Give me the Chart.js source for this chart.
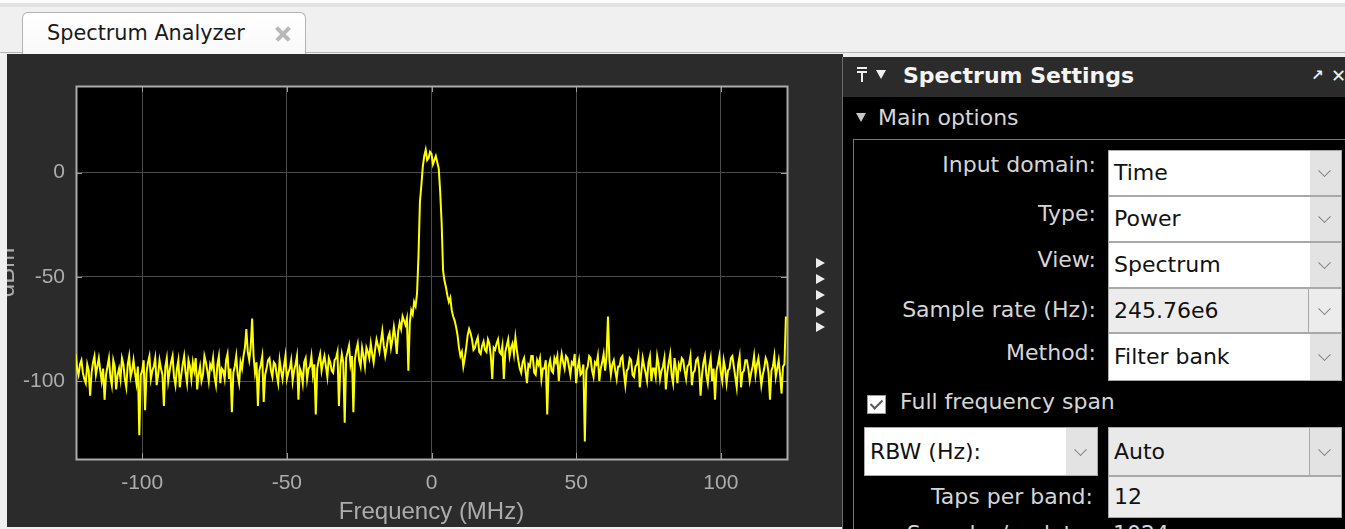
<!DOCTYPE html>
<html>
<head>
<meta charset="utf-8">
<title>Spectrum Analyzer</title>
<script src="https://cdn.jsdelivr.net/npm/chart.js@4.4.1/dist/chart.umd.min.js"></script>
<style>
  html, body { margin: 0; padding: 0; }
  body { width: 1345px; height: 529px; overflow: hidden; position: relative; background: #f0f0f0; font-family: "DejaVu Sans", sans-serif; }
  .abs { position: absolute; }
  #topband { left: 0; top: 0; width: 1345px; height: 3px; background: #fbfbfb; }
  #topline { left: 0; top: 3px; width: 1345px; height: 4px; background: #e2e2e2; }
  #tabbase { left: 0; top: 52px; width: 1345px; height: 1px; background: #b5b5b5; }
  #tab { left: 22px; top: 12px; width: 284px; height: 42px; box-sizing: border-box; border: 1px solid #b3b3b3; border-bottom: none; border-radius: 6px 6px 0 0; background: linear-gradient(#ffffff, #f9f9f9); }
  #tabtext { left: 47px; top: 23px; font-size: 20.8px; line-height: 1; color: #1a1a1a; white-space: nowrap; }
  .xbar { position: absolute; left: 274px; top: 32px; width: 18px; height: 3.5px; background: #b8b8b8; }
  #plotpanel { left: 7px; top: 54px; width: 836px; height: 473px; background: #2b2b2b; }
  #chartbox { left: 7px; top: 55px; width: 836px; height: 472px; }
  .tri { position: absolute; left: 816px; width: 0; height: 0; border-top: 5px solid transparent; border-bottom: 5px solid transparent; border-left: 9px solid #ececec; }
  #settings { left: 842px; top: 57px; width: 503px; height: 472px; background: #000; border-left: 1px solid #6b6b6b; }
  #sethead { left: 843px; top: 57px; width: 502px; height: 40px; background: #2b2b2b; }
  #settitle { left: 903px; top: 65px; font-size: 22px; font-weight: bold; line-height: 1; color: #f4f4f4; white-space: nowrap; }
  #mainopt { left: 878px; top: 107px; font-size: 22px; line-height: 1; color: #d6d6d6; white-space: nowrap; }
  #group { left: 853px; top: 139px; width: 520px; height: 420px; border: 1px solid #777; }
  .lbl { position: absolute; right: 249px; font-size: 22px; line-height: 1; color: #d6d6d6; white-space: nowrap; }
  .box { position: absolute; box-sizing: border-box; border: 1px solid #a9a9a9; background: #ffffff; }
  .box.grey { background: #e9e9e9; }
  .arrow { position: absolute; top: 0; right: 0; width: 31px; height: 100%; background: #e3e3e3; }
  .arrow.sep { border-left: 1px solid #a9a9a9; }
  .chev { position: absolute; left: 10px; top: 50%; width: 8px; height: 8px; border-right: 1.5px solid #808080; border-bottom: 1.5px solid #808080; transform: translateY(-75%) rotate(45deg); }
  .val { position: absolute; left: 5px; top: 50%; transform: translateY(-48%); font-size: 22px; line-height: 1; color: #111; white-space: nowrap; }
</style>
</head>
<body>
<div class="abs" id="topband"></div>
<div class="abs" id="topline"></div>
<div class="abs" id="tabbase"></div>
<div class="abs" id="tab"></div>
<div class="abs" id="tabtext">Spectrum Analyzer</div>
<div class="xbar" style="transform: rotate(45deg);"></div>
<div class="xbar" style="transform: rotate(-45deg);"></div>

<div class="abs" id="plotpanel"></div>
<div class="abs" id="chartbox"><canvas id="chart" width="836" height="472"></canvas></div>
<div class="tri" style="top: 258px;"></div>
<div class="tri" style="top: 274px;"></div>
<div class="tri" style="top: 290px;"></div>
<div class="tri" style="top: 307px;"></div>
<div class="tri" style="top: 322px;"></div>

<div class="abs" id="settings"></div>
<div class="abs" id="sethead"></div>
<div class="abs" style="left: 857px; top: 67px; width: 10px; height: 2px; background: #f0f0f0;"></div>
<div class="abs" style="left: 857px; top: 71px; width: 10px; height: 2px; background: #f0f0f0;"></div>
<div class="abs" style="left: 861px; top: 73px; width: 2px; height: 9px; background: #f0f0f0;"></div>
<div class="abs" style="left: 876px; top: 70px; width: 0; height: 0; border-left: 5px solid transparent; border-right: 5px solid transparent; border-top: 9px solid #f0f0f0;"></div>
<div class="abs" id="settitle">Spectrum Settings</div>
<div class="abs" style="left: 1311px; top: 68px; font-size: 15px; line-height: 1; color: #f0f0f0; font-weight: bold;">&#8599;</div>
<div class="abs" style="left: 1331px; top: 67px; font-size: 18px; line-height: 1; color: #f0f0f0; font-weight: bold;">&#10005;</div>
<div class="abs" style="left: 856px; top: 113px; width: 0; height: 0; border-left: 5px solid transparent; border-right: 5px solid transparent; border-top: 9px solid #c8c8c8;"></div>
<div class="abs" id="mainopt">Main options</div>
<div class="abs" id="group"></div>

<div class="lbl" style="top: 154px;">Input domain:</div>
<div class="box" style="left: 1108px; top: 150px; width: 234px; height: 46px;"><span class="val">Time</span><div class="arrow"><div class="chev"></div></div></div>
<div class="lbl" style="top: 203px;">Type:</div>
<div class="box" style="left: 1108px; top: 196px; width: 234px; height: 46px;"><span class="val">Power</span><div class="arrow"><div class="chev"></div></div></div>
<div class="lbl" style="top: 249px;">View:</div>
<div class="box" style="left: 1108px; top: 242px; width: 234px; height: 46px;"><span class="val">Spectrum</span><div class="arrow"><div class="chev"></div></div></div>
<div class="lbl" style="top: 299px;">Sample rate (Hz):</div>
<div class="box grey" style="left: 1108px; top: 288px; width: 201px; height: 45px; background: #ececec;"><span class="val">245.76e6</span></div>
<div class="box" style="left: 1308px; top: 288px; width: 34px; height: 45px; background: #ececec;"><div class="chev" style="left: 11px;"></div></div>
<div class="lbl" style="top: 342px;">Method:</div>
<div class="box" style="left: 1108px; top: 333px; width: 234px; height: 48px;"><span class="val">Filter bank</span><div class="arrow"><div class="chev"></div></div></div>

<div class="box" style="left: 867px; top: 395px; width: 19px; height: 19px; border-color: #9a9a9a;"></div>
<div class="abs" style="left: 873px; top: 397px; width: 5px; height: 10px; border-right: 2px solid #5a5a5a; border-bottom: 2px solid #5a5a5a; transform: rotate(45deg);"></div>
<div class="abs" style="left: 900px; top: 391px; font-size: 22px; line-height: 1; color: #d6d6d6; white-space: nowrap;">Full frequency span</div>

<div class="box" style="left: 864px; top: 427px; width: 234px; height: 49px;"><span class="val">RBW (Hz):</span><div class="arrow"><div class="chev"></div></div></div>
<div class="box grey" style="left: 1108px; top: 427px; width: 234px; height: 49px;"><span class="val">Auto</span><div class="arrow sep"><div class="chev"></div></div></div>
<div class="lbl" style="top: 486px; right: 252px;">Taps per band:</div>
<div class="box grey" style="left: 1108px; top: 476px; width: 234px; height: 42px; background: #ececec;"><span class="val">12</span></div>
<div class="lbl" style="top: 523px; right: 252px;">Samples/update:</div>
<div class="abs" style="left: 1113px; top: 523px; font-size: 22px; line-height: 1; color: #d6d6d6;">1024</div>

<script>
'use strict';

var ctx = document.getElementById('chart').getContext('2d');

// frequency bins (MHz), half a MHz apart
var freqMHz = [
  -123, -122.5, -122, -121.5, -121, -120.5, -120, -119.5, -119, -118.5,
  -118, -117.5, -117, -116.5, -116, -115.5, -115, -114.5, -114, -113.5,
  -113, -112.5, -112, -111.5, -111, -110.5, -110, -109.5, -109, -108.5,
  -108, -107.5, -107, -106.5, -106, -105.5, -105, -104.5, -104, -103.5,
  -103, -102.5, -102, -101.5, -101, -100.5, -100, -99.5, -99, -98.5,
  -98, -97.5, -97, -96.5, -96, -95.5, -95, -94.5, -94, -93.5,
  -93, -92.5, -92, -91.5, -91, -90.5, -90, -89.5, -89, -88.5,
  -88, -87.5, -87, -86.5, -86, -85.5, -85, -84.5, -84, -83.5,
  -83, -82.5, -82, -81.5, -81, -80.5, -80, -79.5, -79, -78.5,
  -78, -77.5, -77, -76.5, -76, -75.5, -75, -74.5, -74, -73.5,
  -73, -72.5, -72, -71.5, -71, -70.5, -70, -69.5, -69, -68.5,
  -68, -67.5, -67, -66.5, -66, -65.5, -65, -64.5, -64, -63.5,
  -63, -62.5, -62, -61.5, -61, -60.5, -60, -59.5, -59, -58.5,
  -58, -57.5, -57, -56.5, -56, -55.5, -55, -54.5, -54, -53.5,
  -53, -52.5, -52, -51.5, -51, -50.5, -50, -49.5, -49, -48.5,
  -48, -47.5, -47, -46.5, -46, -45.5, -45, -44.5, -44, -43.5,
  -43, -42.5, -42, -41.5, -41, -40.5, -40, -39.5, -39, -38.5,
  -38, -37.5, -37, -36.5, -36, -35.5, -35, -34.5, -34, -33.5,
  -33, -32.5, -32, -31.5, -31, -30.5, -30, -29.5, -29, -28.5,
  -28, -27.5, -27, -26.5, -26, -25.5, -25, -24.5, -24, -23.5,
  -23, -22.5, -22, -21.5, -21, -20.5, -20, -19.5, -19, -18.5,
  -18, -17.5, -17, -16.5, -16, -15.5, -15, -14.5, -14, -13.5,
  -13, -12.5, -12, -11.5, -11, -10.5, -10, -9.5, -9, -8.5,
  -8, -7.5, -7, -6.5, -6, -5.5, -5, -4.5, -4, -3.5,
  -3, -2.5, -2, -1.5, -1, -0.5, 0, 0.5, 1, 1.5,
  2, 2.5, 3, 3.5, 4, 4.5, 5, 5.5, 6, 6.5,
  7, 7.5, 8, 8.5, 9, 9.5, 10, 10.5, 11, 11.5,
  12, 12.5, 13, 13.5, 14, 14.5, 15, 15.5, 16, 16.5,
  17, 17.5, 18, 18.5, 19, 19.5, 20, 20.5, 21, 21.5,
  22, 22.5, 23, 23.5, 24, 24.5, 25, 25.5, 26, 26.5,
  27, 27.5, 28, 28.5, 29, 29.5, 30, 30.5, 31, 31.5,
  32, 32.5, 33, 33.5, 34, 34.5, 35, 35.5, 36, 36.5,
  37, 37.5, 38, 38.5, 39, 39.5, 40, 40.5, 41, 41.5,
  42, 42.5, 43, 43.5, 44, 44.5, 45, 45.5, 46, 46.5,
  47, 47.5, 48, 48.5, 49, 49.5, 50, 50.5, 51, 51.5,
  52, 52.5, 53, 53.5, 54, 54.5, 55, 55.5, 56, 56.5,
  57, 57.5, 58, 58.5, 59, 59.5, 60, 60.5, 61, 61.5,
  62, 62.5, 63, 63.5, 64, 64.5, 65, 65.5, 66, 66.5,
  67, 67.5, 68, 68.5, 69, 69.5, 70, 70.5, 71, 71.5,
  72, 72.5, 73, 73.5, 74, 74.5, 75, 75.5, 76, 76.5,
  77, 77.5, 78, 78.5, 79, 79.5, 80, 80.5, 81, 81.5,
  82, 82.5, 83, 83.5, 84, 84.5, 85, 85.5, 86, 86.5,
  87, 87.5, 88, 88.5, 89, 89.5, 90, 90.5, 91, 91.5,
  92, 92.5, 93, 93.5, 94, 94.5, 95, 95.5, 96, 96.5,
  97, 97.5, 98, 98.5, 99, 99.5, 100, 100.5, 101, 101.5,
  102, 102.5, 103, 103.5, 104, 104.5, 105, 105.5, 106, 106.5,
  107, 107.5, 108, 108.5, 109, 109.5, 110, 110.5, 111, 111.5,
  112, 112.5, 113, 113.5, 114, 114.5, 115, 115.5, 116, 116.5,
  117, 117.5, 118, 118.5, 119, 119.5, 120, 120.5, 121, 121.5,
  122, 122.5
];

var powerDbm = [
  -87, -94, -97, -92, -90, -96, -99, -101, -92, -95,
  -107, -96, -91, -88, -97, -93, -89, -95, -100, -94,
  -109, -97, -93, -89, -98, -102, -90, -93, -104, -97,
  -94, -99, -89, -92, -99, -103, -92, -88, -98, -95,
  -90, -96, -101, -93, -126, -97, -95, -90, -114, -96,
  -91, -88, -99, -95, -93, -89, -102, -97, -90, -94,
  -97, -112, -93, -89, -100, -95, -91, -88, -98, -102,
  -94, -90, -103, -97, -92, -88, -96, -101, -90, -93,
  -99, -91, -95, -89, -104, -97, -93, -100, -97, -88,
  -91, -95, -100, -92, -94, -89, -98, -102, -92, -88,
  -101, -94, -95, -99, -90, -87, -99, -94, -115, -96,
  -93, -88, -97, -101, -91, -94, -88, -84, -75, -86,
  -90, -84, -70, -88, -96, -91, -112, -95, -92, -88,
  -110, -97, -94, -90, -89, -95, -98, -91, -92, -97,
  -101, -90, -95, -99, -93, -88, -99, -96, -94, -90,
  -100, -95, -92, -88, -109, -94, -96, -101, -91, -89,
  -99, -94, -93, -88, -97, -92, -116, -94, -90, -87,
  -95, -91, -88, -93, -98, -89, -91, -95, -96, -90,
  -89, -86, -112, -93, -87, -91, -120, -89, -86, -83,
  -92, -88, -115, -90, -85, -82, -90, -93, -84, -88,
  -93, -84, -86, -89, -82, -87, -91, -85, -80, -83,
  -86, -81, -76, -83, -88, -84, -79, -77, -84, -80,
  -74, -79, -87, -76, -72, -75, -69, -71, -73, -70,
  -95, -72, -66, -68, -62, -64, -58, -40, -14, -6,
  3, 8, 11, 6, 7, 10, 9, 4, 6, 8,
  5, 2, -9, -24, -47, -52, -55, -59, -62, -60,
  -66, -69, -71, -74, -78, -84, -88, -86, -93, -89,
  -84, -78, -75, -77, -80, -85, -84, -81, -79, -86,
  -87, -83, -81, -85, -86, -80, -82, -88, -99, -84,
  -85, -82, -80, -86, -87, -83, -99, -86, -83, -80,
  -88, -84, -82, -87, -79, -85, -90, -94, -96, -91,
  -89, -95, -101, -92, -93, -88, -88, -96, -97, -90,
  -92, -89, -99, -94, -94, -90, -116, -93, -90, -95,
  -96, -89, -91, -88, -100, -92, -87, -91, -94, -88,
  -89, -93, -97, -91, -92, -87, -101, -94, -90, -97,
  -96, -92, -129, -95, -93, -88, -89, -95, -98, -91,
  -92, -88, -100, -94, -91, -87, -95, -88, -69, -90,
  -97, -92, -90, -95, -99, -93, -93, -89, -88, -96,
  -102, -95, -94, -89, -90, -97, -98, -93, -92, -88,
  -103, -96, -89, -93, -96, -100, -91, -88, -100, -94,
  -94, -98, -88, -92, -99, -95, -93, -89, -104, -96,
  -91, -87, -97, -101, -89, -94, -101, -92, -94, -89,
  -90, -95, -99, -93, -92, -88, -102, -96, -95, -90,
  -89, -94, -107, -97, -91, -88, -97, -101, -93, -89,
  -100, -94, -109, -95, -92, -88, -96, -100, -90, -94,
  -101, -95, -94, -89, -88, -93, -98, -103, -92, -88,
  -103, -96, -95, -90, -90, -94, -100, -96, -93, -88,
  -97, -92, -89, -95, -102, -97, -94, -89, -91, -96,
  -109, -95, -93, -88, -98, -94, -90, -97, -106, -93,
  -92, -69
];

var xTickValues = [-100, -50, 0, 50, 100];
var yTickValues = [-100, -50, 0];
var xRange = [-122.88, 122.88];
var yRange = [-137.4, 41.6];

function getTracePoints(freqs, powers) {
  var points = [];
  for (var i = 0; i < freqs.length; i++) {
    points.push({ x: freqs[i], y: powers[i] });
  }
  return points;
}

function setTicks(values) {
  return function (scale) {
    scale.ticks = values.map(function (v) { return { value: v }; });
  };
}

// black plot area, light frame and the small inner tick marks
var plotFrame = {
  id: 'plotFrame',
  beforeDraw: function (chart) {
    var a = chart.chartArea;
    var c = chart.ctx;
    c.save();
    c.fillStyle = '#000000';
    c.fillRect(a.left, a.top, a.right - a.left, a.bottom - a.top);
    c.restore();
  },
  beforeDatasetsDraw: function (chart) {
    var a = chart.chartArea;
    var c = chart.ctx;
    var xs = chart.scales.x;
    var ys = chart.scales.y;
    c.save();
    c.strokeStyle = '#9c9c9c';
    c.lineWidth = 1;
    c.beginPath();
    xTickValues.forEach(function (v) {
      var px = Math.round(xs.getPixelForValue(v)) + 0.5;
      c.moveTo(px, a.bottom); c.lineTo(px, a.bottom - 6);
      c.moveTo(px, a.top); c.lineTo(px, a.top + 6);
    });
    yTickValues.forEach(function (v) {
      var py = Math.round(ys.getPixelForValue(v)) + 0.5;
      c.moveTo(a.left, py); c.lineTo(a.left + 6, py);
      c.moveTo(a.right, py); c.lineTo(a.right - 6, py);
    });
    c.stroke();
    c.lineWidth = 2;
    c.strokeStyle = '#ababab';
    c.strokeRect(a.left + 0.5, a.top + 0.5, a.right - a.left, a.bottom - a.top);
    c.restore();
  }
};

var tickFont = { family: '"Liberation Sans", Arial, sans-serif', size: 21 };
var titleFont = { family: '"Liberation Sans", Arial, sans-serif', size: 24 };

var chartData = {
  type: 'line',
  data: {
    datasets: [{
      label: 'Channel 1',
      data: getTracePoints(freqMHz, powerDbm),
      borderColor: '#ffff00',
      borderWidth: 2,
      pointRadius: 0,
      tension: 0
    }]
  },
  options: {
    responsive: false,
    animation: false,
    devicePixelRatio: 1,
    layout: { padding: { left: 0, top: 31, right: 56, bottom: 0 } },
    plugins: { legend: { display: false }, tooltip: { enabled: false } },
    scales: {
      x: {
        type: 'linear',
        min: xRange[0],
        max: xRange[1],
        afterBuildTicks: setTicks(xTickValues),
        afterFit: function (scale) { scale.height = 68; },
        grid: { color: '#4b4b4b', drawTicks: false },
        border: { display: false },
        ticks: { color: '#acacac', font: tickFont, padding: 12, maxRotation: 0, autoSkip: false,
          callback: function (v) { return String(v); } },
        title: { display: true, text: 'Frequency (MHz)', color: '#acacac', font: titleFont, padding: 0 }
      },
      y: {
        type: 'linear',
        min: yRange[0],
        max: yRange[1],
        afterBuildTicks: setTicks(yTickValues),
        afterFit: function (scale) { scale.width = 69; },
        grid: { color: '#4b4b4b', drawTicks: false },
        border: { display: false },
        ticks: { color: '#acacac', font: tickFont, padding: 11, autoSkip: false,
          callback: function (v) { return String(v); } },
        title: { display: true, text: 'dBm', color: '#acacac', font: titleFont, padding: { top: -14, bottom: 0 } }
      }
    }
  },
  plugins: [plotFrame]
};

var charts = new Chart(ctx, chartData);
</script>
</body>
</html>
